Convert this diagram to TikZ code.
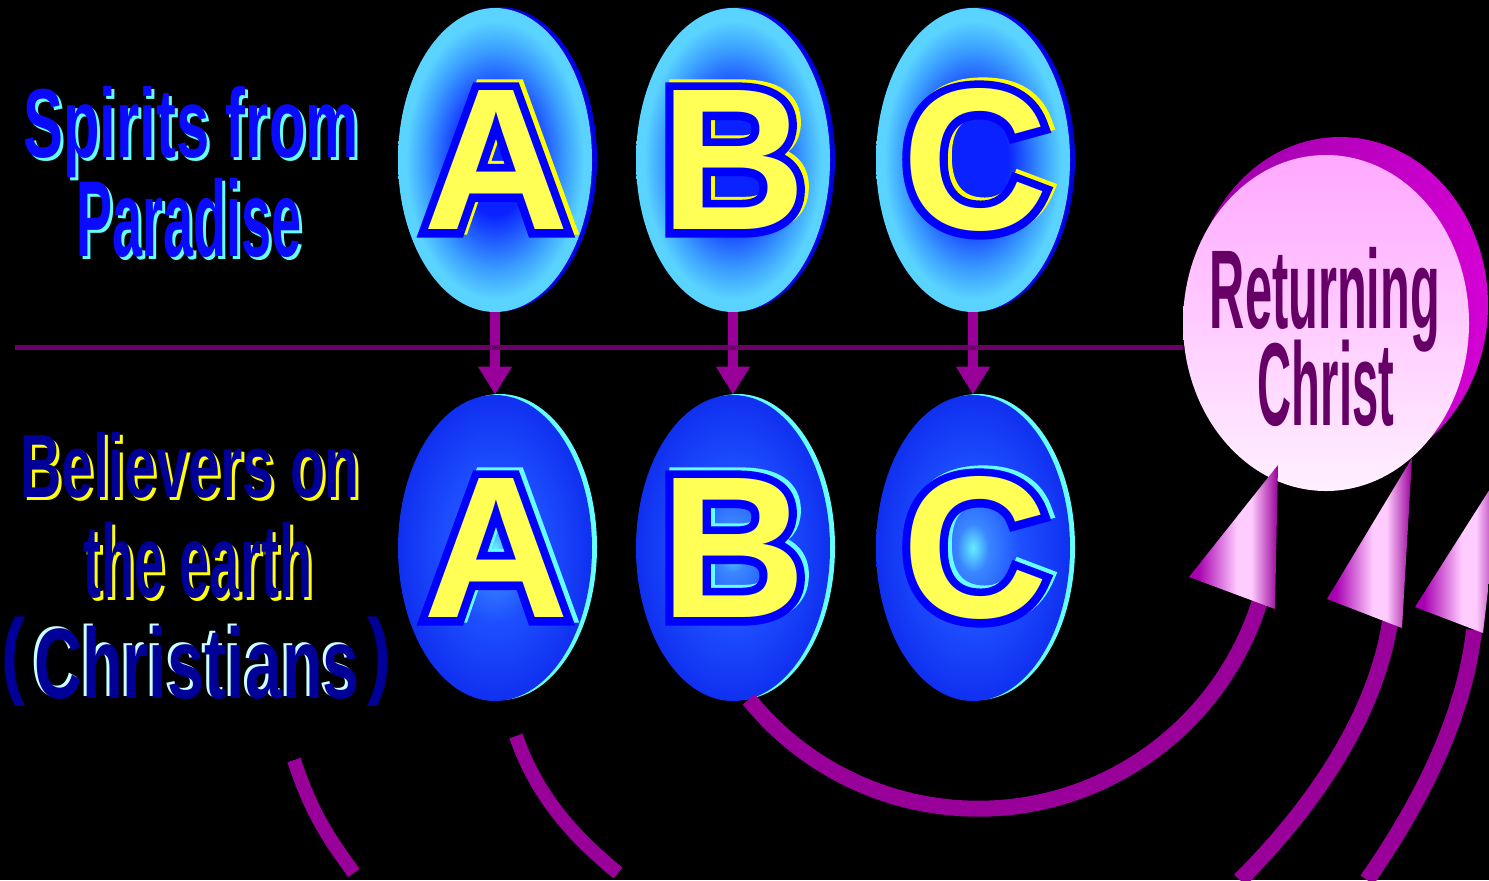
\documentclass[tikz,border=0pt]{standalone}
\usepackage{fontspec}
\usepackage{graphicx}
\setmainfont{Liberation Sans}
\newfontfamily\outlinefont{Liberation Sans}[BoldFeatures={FakeBold=8}]
\usetikzlibrary{shapes.geometric,arrows.meta}
\definecolor{tc1}{HTML}{0A22FF}
\definecolor{tc2}{HTML}{3A9CFF}
\definecolor{tc3}{HTML}{5AD4FF}
\definecolor{trim}{HTML}{0000E0}
\definecolor{bc1}{HTML}{66EEFF}
\definecolor{bc2}{HTML}{3A86FF}
\definecolor{bc3}{HTML}{1E50FF}
\definecolor{bc4}{HTML}{1030F0}
\definecolor{brim}{HTML}{66FFFF}
\definecolor{ylw}{HTML}{FFFF55}
\definecolor{ylwsh}{HTML}{FFFF00}
\definecolor{ltrblue}{HTML}{0000FF}
\definecolor{lblblue}{HTML}{0A0AFF}
\definecolor{lblcyan}{HTML}{66FFFF}
\definecolor{navy}{HTML}{000099}
\definecolor{palecyan}{HTML}{CCFFFF}
\definecolor{magline}{HTML}{6B006B}
\definecolor{magarrow}{HTML}{990099}
\definecolor{circback1}{HTML}{9A00A8}
\definecolor{circback2}{HTML}{D400D4}
\definecolor{circfront1}{HTML}{FFA8FF}
\definecolor{circfront2}{HTML}{FFF0FF}
\definecolor{rctext}{HTML}{660066}
\definecolor{conehi}{HTML}{FFCCFF}
\definecolor{conelo}{HTML}{A800B0}
\pgfdeclareradialshading{topell}{\pgfpoint{0bp}{0bp}}{color(0bp)=(tc1); color(9bp)=(tc1); color(18bp)=(tc2); color(23bp)=(tc3); color(25bp)=(tc3); color(50bp)=(tc3)}
\pgfdeclareradialshading{botell}{\pgfpoint{0bp}{0bp}}{color(0bp)=(bc1); color(4bp)=(bc2); color(12bp)=(bc3); color(25bp)=(bc4); color(50bp)=(bc4)}
\pgfdeclarehorizontalshading{conesh}{100bp}{color(0bp)=(conelo); color(30bp)=(conelo); color(52bp)=(conehi); color(60bp)=(conehi); color(75bp)=(magarrow); color(100bp)=(magarrow)}
\tikzset{
  topE/.style={ellipse, minimum width=97pt, minimum height=152pt, inner sep=0pt, shade, shading=topell},
  botE/.style={ellipse, minimum width=97pt, minimum height=153pt, inner sep=0pt, shade, shading=botell},
  rimE/.style={ellipse, minimum width=97pt, minimum height=152pt, inner sep=0pt, fill=#1},
  lettrout/.style={font=\outlinefont\bfseries\fontsize{101pt}{101pt}\selectfont, inner sep=0pt},
  lettrfill/.style={font=\bfseries\fontsize{101pt}{101pt}\selectfont, inner sep=0pt},
  downarr/.style={draw=magarrow, line width=5pt, -{Triangle[width=16pt,length=14pt]}},
  shaft/.style={draw=magarrow, line width=8pt},
  cone/.style={shading=conesh},
  rctxt/.style={text=rctext, anchor=base, inner sep=0pt}
}
% #1 name, #2 pos, #3 letter, #4 shadow colour, #5 outline colour, #6 fill colour
\newcommand\letterbox[6]{%
  \node[lettrout,text=#4,shift={(4,-3)}] at (#2) {#3};
  \node[lettrout,text=#5] at (#2) {#3};
  \node[lettrfill,text=#6] (#1) at (#2) {#3};}
% #1 name, #2 pos, #3 text, #4 fill, #5 shadow, #6 shadow shift, #7 size, #8 xscale
\newcommand\lbl[8]{%
  \node[text=#5,font=\bfseries\fontsize{#7}{#7}\selectfont,anchor=base,inner sep=0pt,shift={(#6)}] at (#2) {\scalebox{#8}[1]{#3}};
  \node[text=#4,font=\bfseries\fontsize{#7}{#7}\selectfont,anchor=base,inner sep=0pt] (#1) at (#2) {\scalebox{#8}[1]{#3}};}
\begin{document}
\begin{tikzpicture}[x=0.5pt,y=-0.5pt]
\fill[black] (0,0) rectangle (1489,880);
\useasboundingbox (0,0) rectangle (1489,880);
\clip (0,0) rectangle (1489,880);

% left labels
\lbl{l1}{191,157}{Spirits from}{lblblue}{lblcyan}{3,3}{49pt}{0.61}
\lbl{l2}{189,256}{Paradise}{lblblue}{lblcyan}{3,3}{54pt}{0.50}
\lbl{l3}{190,497}{Believers on}{navy}{ylwsh}{3,3}{45pt}{0.635}
\lbl{l4}{198,597}{the earth}{navy}{ylwsh}{3,3}{52pt}{0.52}
\lbl{l5}{197,698}{Christians}{navy}{palecyan}{-3,-2}{50pt}{0.666}
\node[text=navy,font=\bfseries\fontsize{48pt}{48pt}\selectfont,inner sep=0pt] (lp) at (13,662) {\scalebox{0.75}[1]{(}};
\node[text=navy,font=\bfseries\fontsize{48pt}{48pt}\selectfont,inner sep=0pt] (rp) at (379,662) {\scalebox{0.75}[1]{)}};

% top ellipses
\node[rimE=trim] (tAr) at (500,159) {};
\node[rimE=trim] (tBr) at (738,159) {};
\node[rimE=trim] (tCr) at (978,159) {};
\node[topE] (tA) at (495,160) {};
\node[topE] (tB) at (733,160) {};
\node[topE] (tC) at (973,160) {};
% bottom ellipses
\node[rimE=brim, minimum height=153pt] (bAr) at (500,547) {};
\node[rimE=brim, minimum height=153pt] (bBr) at (738,547) {};
\node[rimE=brim, minimum height=153pt] (bCr) at (978,547) {};
\node[botE] (bA) at (495,548) {};
\node[botE] (bB) at (733,548) {};
\node[botE] (bC) at (973,548) {};

% letters
\letterbox{ltA}{496,160}{A}{ylwsh}{ltrblue}{ylw}
\letterbox{ltB}{733,160}{B}{ylwsh}{ltrblue}{ylw}
\letterbox{ltC}{975,160}{C}{ylwsh}{ltrblue}{ylw}
\letterbox{lbA}{496,548}{A}{brim}{ltrblue}{ylw}
\letterbox{lbB}{733,548}{B}{brim}{ltrblue}{ylw}
\letterbox{lbC}{975,548}{C}{brim}{ltrblue}{ylw}

% down arrows
\draw[downarr] (tA.south) -- (bA.north);
\draw[downarr] (tB.south) -- (bB.north);
\draw[downarr] (tC.south) -- (bC.north);

% Returning Christ
\node[ellipse, minimum width=148pt, minimum height=168pt, inner sep=0pt, left color=circback1, right color=circback2] (rcb) at (1340,305) {};
\node[ellipse, minimum width=143pt, minimum height=168pt, inner sep=0pt, top color=circfront1, bottom color=circfront2] (rc) at (1326,323) {};
\node[rctxt,font=\bfseries\fontsize{56pt}{56pt}\selectfont] (rt1) at (1325,328) {\scalebox{0.435}[1]{Returning}};
\node[rctxt,font=\bfseries\fontsize{59pt}{59pt}\selectfont] (rt2) at (1326,425) {\scalebox{0.40}[1]{Christ}};

% horizontal divider
\coordinate (hl) at (15,347);
\draw[magline, line width=2.5pt] (hl) -- (rc.west |- hl);

% curved arrows on the right
\draw[shaft] (bB.-84) arc[start angle=141, end angle=16, radius=295];
\coordinate (s2) at (1240,880);
\coordinate (e2) at (1390,622);
\draw[shaft] (s2) .. controls (1330,790) and (1378,700) .. (e2);
\coordinate (s3) at (1367,880);
\coordinate (e3) at (1474,630);
\draw[shaft] (s3) .. controls (1430,790) and (1466,705) .. (e3);
\shade[cone] (1189,577) -- (1275,609) -- (1278,465) -- cycle;
\shade[cone] (1327,599) -- (1402,628) -- (1412,458) -- cycle;
\shade[cone] (1415,607) -- (1483,633) -- (1502,470) -- cycle;

% arc pieces on the left
\coordinate (s4) at (294,760);
\coordinate (e4) at (354,873);
\draw[shaft, line width=7pt] (s4) .. controls (312,815) and (330,840) .. (e4);
\coordinate (s5) at (516,736);
\coordinate (e5) at (618,873);
\draw[shaft, line width=7pt] (s5) .. controls (538,800) and (578,840) .. (e5);
\end{tikzpicture}
\end{document}
